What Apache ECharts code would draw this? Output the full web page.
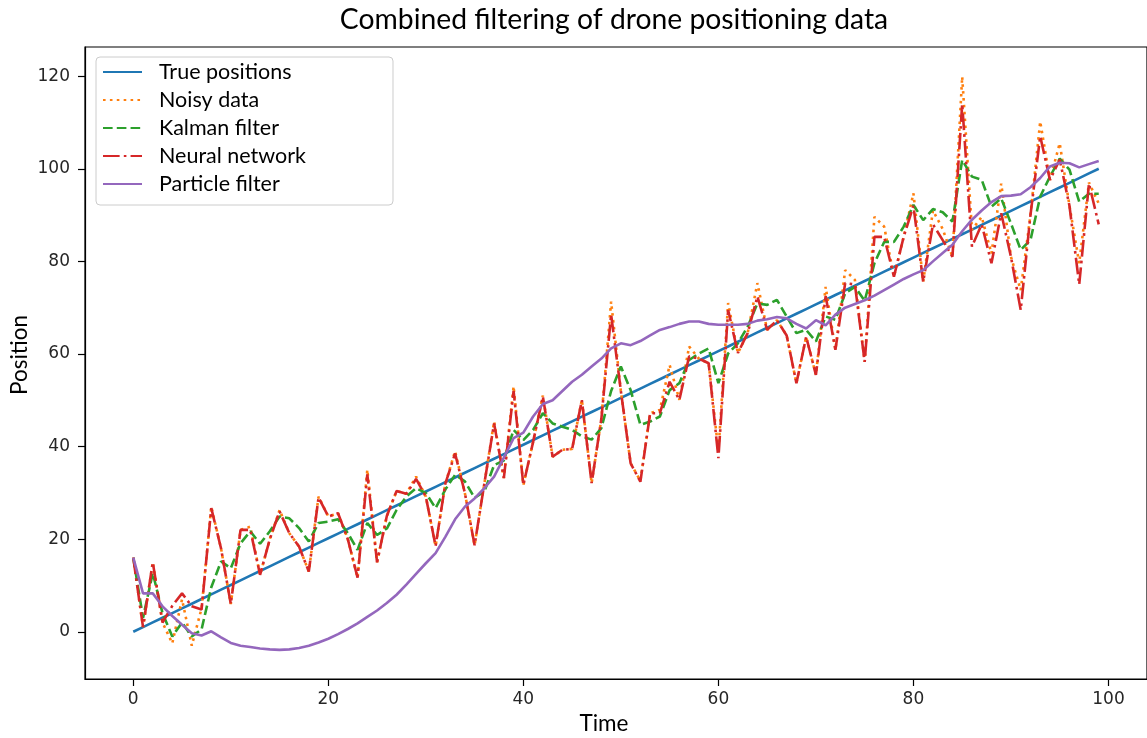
<!DOCTYPE html>
<html>
<head>
<meta charset="utf-8">
<script src="https://cdn.jsdelivr.net/npm/echarts@6/dist/echarts.min.js"></script>
<style>html,body{margin:0;padding:0;background:#fff}#c{width:1147px;height:738px}</style>
</head>
<body>
<div id="c"></div>
<script>
const titleText = 'Combined filtering of drone positioning data';
const xName = 'Time';
const yName = 'Position';
const xTicks = [0, 20, 40, 60, 80, 100];
const yTicks = [0, 20, 40, 60, 80, 100, 120];
const seriesNames = ['True positions', 'Noisy data', 'Kalman filter', 'Neural network', 'Particle filter'];

const times = [0,1,2,3,4,5,6,7,8,9,10,11,12,13,14,15,16,17,18,19,20,21,22,23,24,25,26,27,28,29,30,31,32,33,34,35,36,37,38,39,40,41,42,43,44,45,46,47,48,49,50,51,52,53,54,55,56,57,58,59,60,61,62,63,64,65,66,67,68,69,70,71,72,73,74,75,76,77,78,79,80,81,82,83,84,85,86,87,88,89,90,91,92,93,94,95,96,97,98,99];

const truePos = [0,1.01,2.02,3.03,4.04,5.05,6.06,7.07,8.08,9.09,10.10,11.11,12.12,13.13,14.14,15.15,16.16,17.17,18.18,19.19,20.20,21.21,22.22,23.23,24.24,25.25,26.26,27.27,28.28,29.29,30.30,31.31,32.32,33.33,34.34,35.35,36.36,37.37,38.38,39.39,40.40,41.41,42.42,43.43,44.44,45.45,46.46,47.47,48.48,49.49,50.51,51.52,52.53,53.54,54.55,55.56,56.57,57.58,58.59,59.60,60.61,61.62,62.63,63.64,64.65,65.66,66.67,67.68,68.69,69.70,70.71,71.72,72.73,73.74,74.75,75.76,76.77,77.78,78.79,79.80,80.81,81.82,82.83,83.84,84.85,85.86,86.87,87.88,88.89,89.90,90.91,91.92,92.93,93.94,94.95,95.96,96.97,97.98,98.99,100];

const noisy = [16,1,15,2,-2.5,7,-3,5,27,18,
  6,22,22.7,12.3,20,26.3,21.3,18.4,13,29.2,
  24.9,25.6,20,11.7,35,15,25,30.4,29.8,33.5,
  29.2,18.5,32,39,30,18.7,32,45.4,33.2,53,
  31.7,41,51,37.8,39.3,39.5,50.1,32.1,46,71.3,
  52,36.4,32.6,47.2,47.9,57.6,50.1,61.6,59,58,
  39,71,60.2,64.5,75.3,65.2,67.3,64,53.7,63.7,
  55.5,74.5,60.9,78.1,76,58.3,89.6,87.5,76.7,85.3,
  94.7,75.6,91,87,81,119.9,86.8,89.6,81.7,96.8,
  81,73.8,90,110.2,97.6,105.5,92,79.6,97,92.5];

const kalman = [16,3,12.7,4,-1,2,-1,0.5,9.6,15.2,
  13.7,19.1,21.7,19,21.7,24.9,24.5,22.4,19.5,23.5,
  23.8,24.3,21.3,17.7,23.5,20.9,22.3,26.3,29.2,31,
  30,26.7,30.7,33.9,32.5,28.9,30.3,36,37,43.6,
  41.4,43.6,47.2,45,44.3,43.6,42.2,41.5,44,52,
  57.3,52.2,44.7,45.4,46.5,52.2,53.7,58.7,60.1,61.2,
  53.7,60.1,62.3,65.9,70.9,70.6,71.7,68.1,64.5,65.2,
  62.7,68.1,67.4,73.1,74.5,71.5,79.6,84.2,84.2,87.5,
  92.2,88.9,91.3,90.6,88.6,101.9,98.3,97.6,91.8,93.6,
  88.2,82.5,84.6,94,98.3,102.2,99.8,92.9,94.6,94.6];

const neural = [16,1,15,2,5.6,8.3,5.5,4.8,26.7,18,
  6,22,22,12.3,20,26,21.3,18.4,13,29,
  24.9,25.6,20,11.7,34,15,25,30.4,29.8,33,
  29.2,18.5,32,38.5,30,18.7,32,45,33.2,52,
  31.7,41,50.8,37.8,39.3,39.5,50,32.1,46,68.5,
  52,36.4,32.4,47.2,47.2,54,50.1,59.5,59,58,
  37.5,69.5,60.2,64.5,72.4,65.2,67.3,64,53.7,63.7,
  55.5,72.5,60.9,75.3,75,58.3,85.3,85.3,76.7,85.3,
  92,75.6,88,84.6,81,114,83.2,88,79.6,90.4,
  81,69.5,90,107,97.6,102,92,75,96.8,88];

const particle = [16,8.3,8.3,5.5,3.4,1.5,-0.3,-0.8,0.1,-1.2,
  -2.4,-3.0,-3.3,-3.6,-3.8,-3.9,-3.8,-3.5,-3.0,-2.3,
  -1.5,-0.5,0.6,1.8,3.2,4.6,6.2,8,10.2,12.5,
  14.8,17,20.5,24.3,27,28.8,31,33.5,37.6,41.8,
  43,46.5,49.2,50,52,54,55.5,57.3,59,61.2,
  62.3,61.9,62.8,64,65.2,65.8,66.5,67,67,66.5,
  66.3,66.3,66.3,66.5,67.2,67.5,68,67.7,66.5,65.5,
  67.3,66.2,68.5,70,70.8,71.6,72.6,73.8,75,76.2,
  77.2,78.1,80,81.8,83.6,86.5,89,91,92.8,94.1,
  94.2,94.5,96,98,100.5,101.3,101.2,100.3,101,101.7];

const seriesValues = [truePos, noisy, kalman, neural, particle];
const colors = ['#1f77b4', '#ff7f0e', '#2ca02c', '#d62728', '#9467bd'];
const lw = 2.6;
const dashes = ['solid', [lw, lw * 1.65], [lw * 3.7, lw * 1.6], [lw * 6.4, lw * 1.6, lw, lw * 1.6], 'solid'];

const chart = echarts.init(document.getElementById('c'), null, {renderer: 'canvas'});
const uiFont = 'Lato';
const tickFont = 'DejaVu Sans';

const series = seriesNames.map((name, k) => ({
  name: name,
  type: 'line',
  data: times.map((t, i) => [t, seriesValues[k][i]]),
  showSymbol: false,
  symbol: 'none',
  smooth: false,
  animation: false,
  lineStyle: {color: colors[k], width: lw, type: dashes[k], cap: 'butt'},
  itemStyle: {color: colors[k]},
  z: 2 + k
}));

chart.setOption({
  animation: false,
  backgroundColor: '#ffffff',
  grid: {left: 85, right: -5, top: 47, bottom: 59, show: true, borderColor: '#000', borderWidth: 1.2, backgroundColor: 'transparent'},
  xAxis: {
    type: 'value', min: -4.95, max: 103.95,
    axisLine: {show: true, onZero: false, lineStyle: {color: '#000', width: 1.2}},
    axisTick: {show: true, inside: false, length: 7, customValues: xTicks, lineStyle: {color: '#000', width: 1.2}},
    axisLabel: {customValues: xTicks, margin: 12, fontFamily: tickFont, fontSize: 17, color: '#262626'},
    splitLine: {show: false}
  },
  yAxis: {
    type: 'value', min: -10.2, max: 126.3,
    axisLine: {show: true, onZero: false, lineStyle: {color: '#000', width: 1.2}},
    axisTick: {show: true, inside: false, length: 7, customValues: yTicks, lineStyle: {color: '#000', width: 1.2}},
    axisLabel: {customValues: yTicks, margin: 15, fontFamily: tickFont, fontSize: 17, color: '#262626'},
    splitLine: {show: false}
  },
  legend: {
    orient: 'vertical', left: 96, top: 57,
    data: seriesNames,
    itemWidth: 39, itemHeight: 14, itemGap: 6,
    padding: [4, 87, 10, 6],
    backgroundColor: 'rgba(255,255,255,0.85)',
    borderColor: '#cccccc', borderWidth: 1, borderRadius: 4,
    itemStyle: {opacity: 0},
    textStyle: {fontFamily: uiFont, fontSize: 21.5, lineHeight: 20, color: '#000', padding: [0, 0, 0, 12]}
  },
  graphic: [
    {type: 'text', x: 614, y: 20, style: {text: titleText, fontFamily: uiFont, fontSize: 28.3, fill: '#000', align: 'center', verticalAlign: 'middle'}},
    {type: 'text', x: 604, y: 724, style: {text: xName, fontFamily: uiFont, fontSize: 22.5, fill: '#000', align: 'center', verticalAlign: 'middle'}},
    {type: 'text', x: 20, y: 355, rotation: Math.PI / 2, style: {text: yName, fontFamily: uiFont, fontSize: 22.5, fill: '#000', align: 'center', verticalAlign: 'middle'}}
  ],
  series: series
});
</script>
</body>
</html>
